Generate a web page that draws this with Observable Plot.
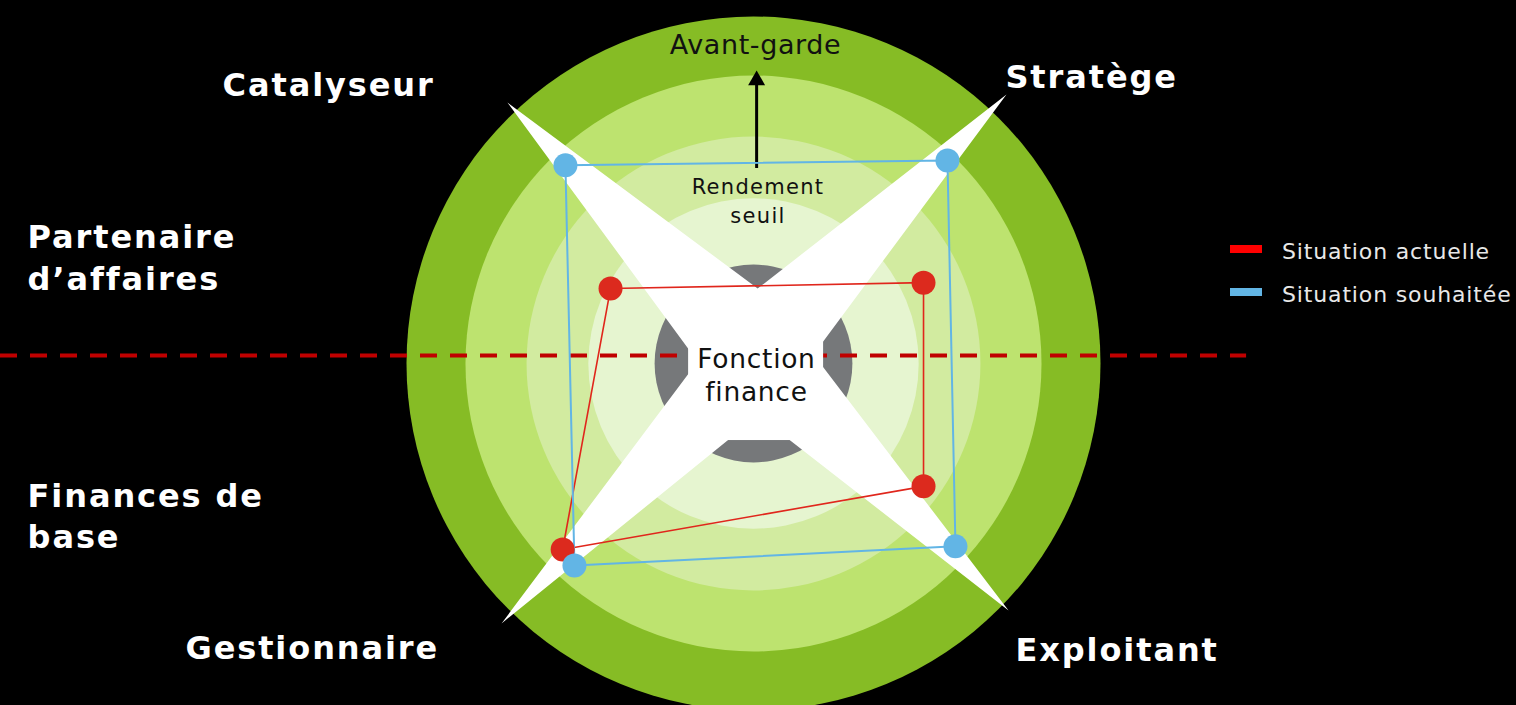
<!DOCTYPE html>
<html>
<head>
<meta charset="utf-8">
<script src="https://cdn.jsdelivr.net/npm/d3@7"></script>
<script src="https://cdn.jsdelivr.net/npm/@observablehq/plot@0.6"></script>
<style>
  html, body { margin: 0; padding: 0; background: #000; }
  #wrap { position: relative; width: 1516px; height: 705px; overflow: hidden; }
  #legend { position: absolute; left: 1230px; top: 0; font-family: "DejaVu Sans", sans-serif; font-size: 22px; color: #e8e8e8; letter-spacing: 0.85px; }
  .row { position: absolute; left: 0; white-space: nowrap; height: 22px; line-height: 22px; }
  .sw { position: absolute; left: 0; top: 4px; width: 32px; height: 8px; }
  .lt { position: absolute; left: 52px; top: 0; }
</style>
</head>
<body>
<div id="wrap"></div>
<script>
// ---------- data (chart units: centre = 0, outer ring radius = 100) ----------
const profiles = ["Catalyseur", "Stratège", "Exploitant", "Gestionnaire"];
const actuelleX = [-41.2, 49.0, 49.0, -55.0];
const actuelleY = [21.6, 23.3, -35.4, -53.6];
const souhaiteeX = [-54.2, 55.9, 58.2, -51.6];
const souhaiteeY = [57.1, 58.5, -52.7, -58.2];

const ringNames = ["Avant-garde", "Zone 2", "Rendement seuil", "Zone 4", "Fonction finance"];
const ringRadius = [100, 83, 65.4, 47.6, 28.5];

const levelNames = ["Partenaire d’affaires", "Finances de base"];
const thresholdY = 2.3;             // dashed separator level
const thresholdEnd = 142.1;

// white four-point star (tips on the profile diagonals)
const starX = [-70.9, 1.2, 72.9, 17.3, 73.5, 1.4, -72.6, -16.1];
const starY = [75.2, 21.6, 77.5, 2.6, -71.2, -15.0, -74.9, 0.6];
const boxX = [-18.7, 20.2];
const boxY = [-22.2, 6.6];

// "Avant-garde" direction arrow
const arrowX = [0.9];
const arrowY1 = [56.2];
const arrowY2 = [80.6];
const arrowTipY = [81.6];

// ---------- build tables ----------
const rings = ringRadius.map((r, i) => ({name: ringNames[i], r, i}));
const actuelle = profiles.map((p, i) => ({profile: p, x: actuelleX[i], y: actuelleY[i]}));
const souhaitee = profiles.map((p, i) => ({profile: p, x: souhaiteeX[i], y: souhaiteeY[i]}));
const star = starX.map((x, i) => ({x, y: starY[i]}));

const K = 3.47;              // px per unit
const CX = 753, CY = 363;    // centre in px
const W = 1516, H = 705;

const ringColors = ["#86bc25", "#bde36f", "#d2eba0", "#e6f5d0", "#76787a"];
const FONT = "DejaVu Sans";

const outerLabels = [
  {t: "Catalyseur", x: -153.0, y: 77.2},
  {t: "Stratège", x: 72.6, y: 79.5},
  {t: "Exploitant", x: 75.5, y: -85.6},
  {t: "Gestionnaire", x: -163.7, y: -85.3},
  {t: "Partenaire\nd’affaires", x: -209.2, y: 21.3},
  {t: "Finances de\nbase", x: -209.2, y: -53.3}
];

const chart = Plot.plot({
  width: W, height: H, margin: 0,
  x: {domain: [-CX / K, (W - CX) / K], range: [0, W], axis: null},
  y: {domain: [-(H - CY) / K, CY / K], range: [H, 0], axis: null},
  r: {type: "linear", domain: [0, 100], range: [0, 100 * K]},
  style: {background: "#000", fontFamily: FONT},
  marks: [
    Plot.dot(rings, {x: 0, y: 0, r: "r", fill: (d) => ringColors[d.i], stroke: "none"}),
    Plot.ruleY([thresholdY], {x1: -CX / K, x2: thresholdEnd, stroke: "#c00000", strokeWidth: 4, strokeDasharray: "17,13"}),
    Plot.line(star, {x: "x", y: "y", curve: "linear-closed", fill: "white", stroke: "none"}),
    Plot.rect([0], {x1: boxX[0], x2: boxX[1], y1: boxY[0], y2: boxY[1], fill: "white"}),
    Plot.ruleX(arrowX, {y1: arrowY1[0], y2: arrowY2[0], stroke: "black", strokeWidth: 3}),
    Plot.dot(arrowX, {x: (d) => d, y: arrowTipY[0], symbol: "triangle", r: 6.3, fill: "black", stroke: "none"}),
    Plot.text([ringNames[0]], {x: 0.58, y: 89.3, text: (d) => d, fontSize: 27, fill: "#111", textAnchor: "middle", lineAnchor: "bottom"}),
    Plot.text(["Rendement\nseuil"], {x: 1.3, y: 40.6, text: (d) => d, fontSize: 21, lineHeight: 1.38, fill: "#111", textAnchor: "middle", lineAnchor: "bottom"}),
    Plot.text(["Fonction\nfinance"], {x: 0.86, y: -10.7, text: (d) => d, fontSize: 26.5, lineHeight: 1.25, fill: "#111", textAnchor: "middle", lineAnchor: "bottom"}),
    Plot.line(actuelle, {x: "x", y: "y", curve: "linear-closed", stroke: "#e0261c", strokeWidth: 1.6}),
    Plot.line(souhaitee, {x: "x", y: "y", curve: "linear-closed", stroke: "#62b5e5", strokeWidth: 2}),
    Plot.dot(actuelle, {x: "x", y: "y", r: 12, fill: "#dc2a1e", stroke: "none"}),
    Plot.dot(souhaitee, {x: "x", y: "y", r: 12, fill: "#62b5e5", stroke: "none"}),
    Plot.text(outerLabels, {x: "x", y: "y", text: "t", fontSize: 32, fontWeight: "bold", lineHeight: 1.31, fill: "white", textAnchor: "start", lineAnchor: "bottom"})
  ]
});

// letter spacing per text group (matched by font size)
const spacing = {"32": "1.9px", "27": "0.6px", "21": "1.3px", "26.5": "0.7px"};
chart.querySelectorAll("g").forEach((g) => {
  const fs = g.getAttribute("font-size");
  if (fs && spacing[fs]) g.setAttribute("letter-spacing", spacing[fs]);
});

const wrap = document.getElementById("wrap");
wrap.appendChild(chart);

// legend
const legendItems = [
  {label: "Situation actuelle", color: "#ff0000", top: 241},
  {label: "Situation souhaitée", color: "#62b5e5", top: 284}
];
const legend = document.createElement("div");
legend.id = "legend";
for (const it of legendItems) {
  const row = document.createElement("div");
  row.className = "row";
  row.style.top = it.top + "px";
  const sw = document.createElement("span");
  sw.className = "sw";
  sw.style.background = it.color;
  const lt = document.createElement("span");
  lt.className = "lt";
  lt.textContent = it.label;
  row.appendChild(sw);
  row.appendChild(lt);
  legend.appendChild(row);
}
wrap.appendChild(legend);
</script>
</body>
</html>
